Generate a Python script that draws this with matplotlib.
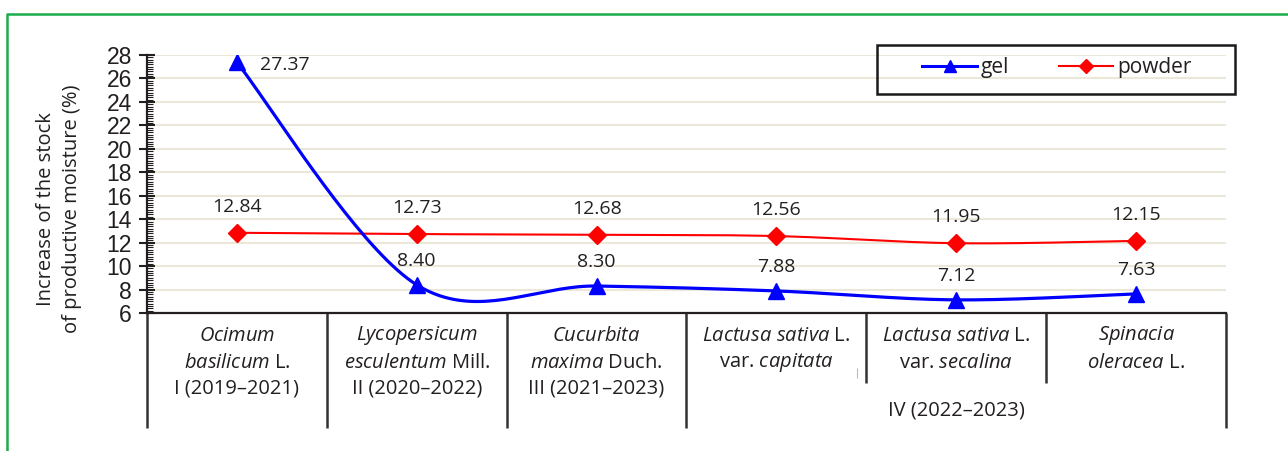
import numpy as np
import matplotlib.pyplot as plt
from matplotlib.lines import Line2D
from matplotlib.patches import Rectangle
from matplotlib.ticker import MultipleLocator

plt.rcParams['font.family'] = ['Open Sans', 'DejaVu Sans']
plt.rcParams['mathtext.fontset'] = 'custom'
plt.rcParams['mathtext.rm'] = 'Open Sans'
plt.rcParams['mathtext.it'] = 'Open Sans:italic'

# data
crops = ['Ocimum basilicum', 'Lycopersicum esculentum', 'Cucurbita maxima',
         'Lactusa sativa capitata', 'Lactusa sativa secalina', 'Spinacia oleracea']
gel = [27.37, 8.40, 8.30, 7.88, 7.12, 7.63]
powder = [12.84, 12.73, 12.68, 12.56, 11.95, 12.15]

# category table text
label_row1 = [r'$\mathit{Ocimum}$', r'$\mathit{Lycopersicum}$', r'$\mathit{Cucurbita}$',
              r'$\mathit{Lactusa\ sativa}$ L.', r'$\mathit{Lactusa\ sativa}$ L.', r'$\mathit{Spinacia}$']
label_row2 = [r'$\mathit{basilicum}$ L.', r'$\mathit{esculentum}$ Mill.', r'$\mathit{maxima}$ Duch.',
              r'var. $\mathit{capitata}$', r'var. $\mathit{secalina}$', r'$\mathit{oleracea}$ L.']
label_row3 = ['I (2019–2021)', 'II (2020–2022)', 'III (2021–2023)', '', '', '']
group_label = 'IV (2022–2023)'

TXT = '#231f20'
W, H = 1288, 451


def smooth(xs, ys, n=40):
    # excel style smoothed line: catmull-rom as cubic bezier
    p = np.column_stack([xs, ys]).astype(float)
    p = np.vstack([p[0], p, p[-1]])
    t = np.linspace(0, 1, n)[:, None]
    out = []
    for i in range(1, len(p) - 2):
        p0, p1, p2, p3 = p[i - 1], p[i], p[i + 1], p[i + 2]
        c1 = p1 + (p2 - p0) / 6
        c2 = p2 - (p3 - p1) / 6
        out.append((1 - t) ** 3 * p1 + 3 * (1 - t) ** 2 * t * c1 + 3 * (1 - t) * t ** 2 * c2 + t ** 3 * p2)
    out = np.vstack(out)
    return out[:, 0], out[:, 1]


fig = plt.figure(figsize=(W / 100, H / 100), dpi=100)
ax = fig.add_axes([147 / W, 138 / H, (1226 - 147) / W, 258 / H])

x = np.arange(len(crops))

# lines
sx, sy = smooth(x, powder)
ax.plot(sx, sy, color='#ff0000', lw=1.5, zorder=3)
ax.plot(x, powder, ls='none', marker='D', ms=9, color='#ff0000', zorder=4)
sx, sy = smooth(x, gel)
ax.plot(sx, sy, color='#0000ff', lw=2.3, zorder=5)
ax.plot(x, gel, ls='none', marker='^', ms=12, color='#0000ff', zorder=6)

# value labels
for i, v in enumerate(powder):
    ax.annotate(f'{v:.2f}', (i, v), xytext=(0, 26), textcoords='offset pixels',
                ha='center', va='center', fontsize=14, color=TXT)
for i, v in enumerate(gel):
    if i == 0:
        ax.annotate(f'{v:.2f}', (i, v), xytext=(23, -3), textcoords='offset pixels',
                    ha='left', va='center', fontsize=14, color=TXT)
    else:
        ax.annotate(f'{v:.2f}', (i, v), xytext=(0, 24), textcoords='offset pixels',
                    ha='center', va='center', fontsize=14, color=TXT)

ax.set_xlim(-0.5, len(crops) - 0.5)
ax.set_ylim(6, 28)
ax.yaxis.set_major_locator(MultipleLocator(2))
ax.yaxis.set_minor_locator(MultipleLocator(0.2))
ax.tick_params(axis='y', which='major', direction='inout', length=11.5, width=1.5,
               labelsize=16.5, pad=5, colors=TXT)
ax.tick_params(axis='y', which='minor', direction='in', length=4.5, width=0.8, colors=TXT)
ax.tick_params(axis='x', which='both', bottom=False, labelbottom=False)
for lab in ax.get_yticklabels():
    lab.set_fontfamily('Liberation Sans')
ax.grid(axis='y', which='major', color='#ebe8da', lw=1.5, zorder=0)
ax.set_axisbelow(True)
for s in ['top', 'right']:
    ax.spines[s].set_visible(False)
for s in ['left', 'bottom']:
    ax.spines[s].set_linewidth(1.6)
    ax.spines[s].set_color(TXT)

# category table under the axis
tr = ax.get_xaxis_transform()
bounds = np.arange(len(crops) + 1) - 0.5
outer = [bounds[0], bounds[1], bounds[2], bounds[3], bounds[6]]
inner = [bounds[4], bounds[5]]
ax.vlines(outer, -0.446, 0, transform=tr, colors='#333333', lw=1.8, clip_on=False)
ax.vlines(inner, -0.271, 0, transform=tr, colors='#333333', lw=1.8, clip_on=False)
ax.vlines([3.45], -0.252, -0.213, transform=tr, colors='#bbbbbb', lw=0.8, clip_on=False)

rows_y = [-0.088, -0.193, -0.294]
for i in range(len(crops)):
    for lines, yy in zip([label_row1, label_row2, label_row3], rows_y):
        if lines[i]:
            ax.text(i, yy, lines[i], transform=tr, ha='center', va='center',
                    fontsize=14.5, color=TXT)
ax.text(4, -0.378, group_label, transform=tr, ha='center', va='center', fontsize=14.5, color=TXT)

# y label
fig.text(59 / W, 1 - 209 / H, 'Increase of the stock\nof productive moisture (%)',
         rotation=90, ha='center', va='center', ma='center', fontsize=14.5,
         linespacing=1.35, color=TXT)

# legend with its own box
h_gel = Line2D([], [], color='#0000ff', lw=2.2, marker='^', ms=9)
h_pow = Line2D([], [], color='#ff0000', lw=1.5, marker='D', ms=7)
fig.legend([h_gel, h_pow], ['gel', 'powder'], ncol=2, loc='center left',
           bbox_to_anchor=(912 / W, 1 - 68 / H), frameon=False, fontsize=15,
           handlelength=2.6, handletextpad=0.2, columnspacing=2.4, borderpad=0,
           labelcolor=TXT)
fig.patches.append(Rectangle((877 / W, 1 - 94 / H), (1235 - 877) / W, 49 / H,
                             transform=fig.transFigure, fill=False, ec='#1a1a1a', lw=1.8))

# green frame (left and top)
fig.add_artist(Line2D([7 / W, 7 / W, 1], [0, 1 - 14 / H, 1 - 14 / H],
                      transform=fig.transFigure, color='#1aab4b', lw=1.8))

fig.savefig('out.png', dpi=100)
